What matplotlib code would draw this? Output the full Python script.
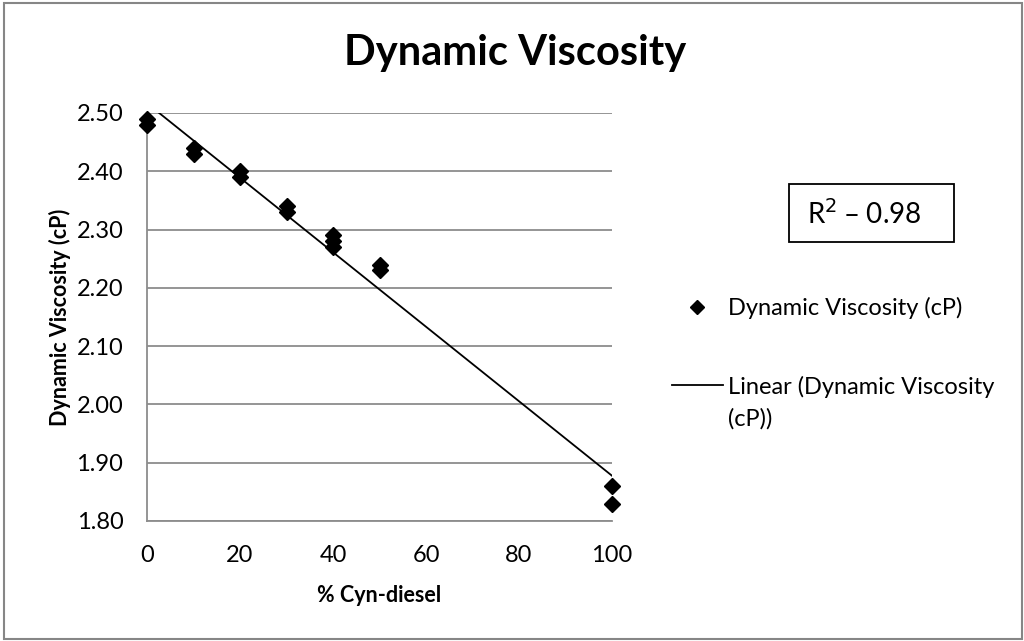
import numpy as np
import matplotlib
matplotlib.use("Agg")
import matplotlib.pyplot as plt
from matplotlib.patches import Rectangle
from matplotlib.lines import Line2D

plt.rcParams["font.family"] = ["Lato", "DejaVu Sans"]

# measured points (% Cyn-diesel vs dynamic viscosity)
pct_diesel = [0, 0, 10, 10, 20, 20, 30, 30, 40, 40, 40, 50, 50, 100, 100]
viscosity = [2.49, 2.48, 2.44, 2.43, 2.40, 2.39, 2.34, 2.33,
             2.29, 2.28, 2.27, 2.24, 2.23, 1.86, 1.83]
x_ticks = [0, 20, 40, 60, 80, 100]
y_ticks = [1.80, 1.90, 2.00, 2.10, 2.20, 2.30, 2.40, 2.50]
r2_text = "R$^2$ – 0.98"

W, H = 1024, 641
fig = plt.figure(figsize=(W / 100, H / 100), dpi=100)
ax = fig.add_axes([147 / W, 1 - 521 / H, (612 - 147) / W, (521 - 113) / H])

# linear trendline, like excel
slope, intercept = np.polyfit(pct_diesel, viscosity, 1)
xs = np.array([0, 100])
ax.plot(xs, slope * xs + intercept, color="black", lw=1.3, zorder=3)
ax.plot(pct_diesel, viscosity, ls="none", marker="D", ms=8.5, color="black",
        zorder=4, clip_on=False)

ax.set_xlim(0, 100)
ax.set_ylim(1.80, 2.50)
ax.set_xticks(x_ticks)
ax.set_yticks(y_ticks)
ax.set_yticklabels([f"{v:.2f}" for v in y_ticks])
ax.tick_params(length=0, labelsize=17, pad=17)
ax.yaxis.grid(True, color="#8c8c8c", lw=1.3)
ax.set_axisbelow(True)
for s in ["top", "right"]:
    ax.spines[s].set_visible(False)
for s in ["left", "bottom"]:
    ax.spines[s].set_color("#8c8c8c")
    ax.spines[s].set_linewidth(1.3)

ax.set_xlabel("% Cyn-diesel", fontsize=15.5, fontweight="bold", labelpad=14)
ax.set_ylabel("Dynamic Viscosity (cP)", fontsize=15.5, fontweight="bold", labelpad=4)

fig.text(515 / W, 1 - 53 / H, "Dynamic Viscosity", fontsize=30, fontweight="bold",
         ha="center", va="center")

# legend, drawn by hand so the two-line label sits like excel's
fig.add_artist(Line2D([697 / W], [1 - 307 / H], marker="D", ms=7, color="black",
                      transform=fig.transFigure))
fig.text(728 / W, 1 - 308 / H, "Dynamic Viscosity (cP)", fontsize=17, va="center")
fig.add_artist(Line2D([672 / W, 723 / W], [1 - 385 / H, 1 - 385 / H], color="black",
                      lw=1.3, transform=fig.transFigure))
fig.text(728 / W, 1 - 403 / H, "Linear (Dynamic Viscosity\n(cP))", fontsize=17,
         va="center", linespacing=1.6)

# R squared box
fig.patches.append(Rectangle((789 / W, 1 - 242 / H), (954 - 789) / W, (242 - 184) / H,
                             transform=fig.transFigure, fill=False, ec="black", lw=1.3))
fig.text(864 / W, 1 - 214 / H, r2_text, fontsize=20, ha="center", va="center")

# chart border
fig.patches.append(Rectangle((4 / W, 1 - 639 / H), (1022 - 4) / W, (639 - 3) / H,
                             transform=fig.transFigure, fill=False, ec="#868686", lw=1.5))

fig.savefig("out.png", dpi=100)
